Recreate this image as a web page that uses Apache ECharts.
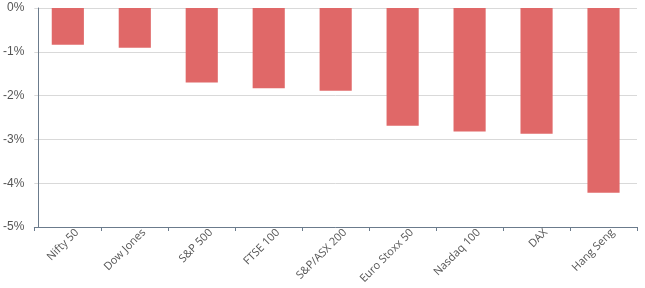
<!DOCTYPE html>
<html><head><meta charset="utf-8">
<script src="https://cdn.jsdelivr.net/npm/echarts@6/dist/echarts.min.js"></script>
<style>html,body{margin:0;padding:0;background:#fff}#c{width:645px;height:288px}</style>
</head><body><div id="c"></div>
<script>
const categories = ["Nifty 50","Dow Jones","S&P 500","FTSE 100","S&P/ASX 200","Euro Stoxx 50","Nasdaq 100","DAX","Hang Seng"];
const values = [-0.84,-0.91,-1.70,-1.83,-1.89,-2.69,-2.82,-2.87,-4.22];
const yTicks = [-5,-4,-3,-2,-1,0];

const chart = echarts.init(document.getElementById('c'), null, {renderer:'canvas'});
chart.setOption({
  animation:false,
  grid:{left:31,right:8,top:8,bottom:61,containLabel:false},
  xAxis:{
    type:'category', data:categories,
    axisLine:{onZero:false, lineStyle:{color:'#6b7b8c',width:1}},
    axisTick:{show:true,length:4,lineStyle:{color:'#6b7b8c'}},
    axisLabel:{rotate:45,color:'#555',fontFamily:'Open Sans',fontSize:11,margin:13,interval:0,padding:[34,-13,0,0]}
  },
  yAxis:{
    type:'value', min:yTicks[0], max:yTicks[yTicks.length-1], interval:1, offset:-4,
    axisLine:{show:true,lineStyle:{color:'#6b7b8c',width:1}},
    axisTick:{show:false},
    splitLine:{lineStyle:{color:'#d9d9d9'}},
    axisLabel:{color:'#555',fontFamily:'Liberation Sans',fontSize:12,margin:14,formatter:v=>v+'%'}
  },
  series:[{type:'bar',data:values,barWidth:'48%',itemStyle:{color:'#e06868'}}]
});
</script></body></html>
